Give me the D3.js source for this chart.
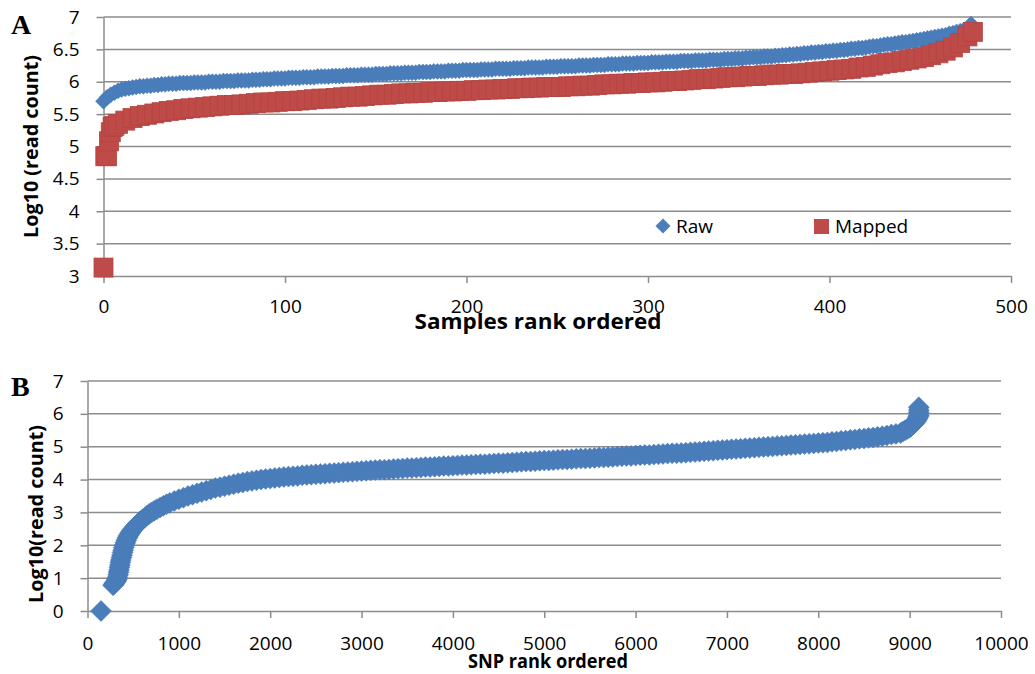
<!DOCTYPE html>
<html>
<head>
<meta charset="utf-8">
<script src="https://cdn.jsdelivr.net/npm/d3@7"></script>
<style>
  body { margin: 0; background: #fff; }
  svg { display: block; }
  .tick text { font-family: "Open Sans", sans-serif; font-size: 19px; fill: #000; }
  .axis path, .axis line { stroke: #8c8c8c; stroke-width: 1.5; }
  .grid line { stroke: #8c8c8c; stroke-width: 1.5; }
</style>
</head>
<body>
<svg id="chart" width="1035" height="674"></svg>
<script>
// ---- panel A : per-sample read counts (log10), samples sorted by count
// Raw: one value for every second rank (0, 2, 4 ... 478)
var rawRankStep = 2;
var rawA = [
  5.70,5.76,5.80,5.83,5.86,5.88,5.89,5.90,5.91,5.92, 5.93,5.93,5.94,5.94,5.95,5.95,5.96,5.96,5.97,5.97,
  5.97,5.98,5.98,5.98,5.98,5.99,5.99,5.99,5.99,6.00, 6.00,6.00,6.00,6.01,6.01,6.01,6.01,6.02,6.02,6.02,
  6.02,6.03,6.03,6.03,6.04,6.04,6.04,6.05,6.05,6.05, 6.05,6.06,6.06,6.06,6.06,6.07,6.07,6.07,6.07,6.08,
  6.08,6.08,6.08,6.09,6.09,6.09,6.09,6.10,6.10,6.10, 6.10,6.11,6.11,6.11,6.11,6.12,6.12,6.12,6.12,6.13,
  6.13,6.13,6.13,6.14,6.14,6.14,6.14,6.15,6.15,6.15, 6.15,6.16,6.16,6.16,6.16,6.17,6.17,6.17,6.17,6.18,
  6.18,6.18,6.18,6.18,6.19,6.19,6.19,6.19,6.20,6.20, 6.20,6.20,6.20,6.21,6.21,6.21,6.21,6.22,6.22,6.22,
  6.22,6.22,6.23,6.23,6.23,6.23,6.24,6.24,6.24,6.24, 6.24,6.25,6.25,6.25,6.25,6.26,6.26,6.26,6.26,6.27,
  6.27,6.27,6.27,6.28,6.28,6.28,6.28,6.29,6.29,6.29, 6.29,6.30,6.30,6.30,6.30,6.31,6.31,6.31,6.31,6.32,
  6.32,6.32,6.32,6.33,6.33,6.33,6.33,6.34,6.34,6.34, 6.34,6.35,6.35,6.35,6.36,6.36,6.36,6.37,6.37,6.38,
  6.38,6.38,6.39,6.39,6.39,6.40,6.40,6.41,6.41,6.42, 6.42,6.43,6.43,6.44,6.44,6.45,6.45,6.46,6.46,6.47,
  6.47,6.48,6.48,6.49,6.49,6.50,6.51,6.51,6.52,6.52, 6.53,6.54,6.55,6.55,6.56,6.57,6.58,6.58,6.59,6.60,
  6.61,6.61,6.62,6.63,6.64,6.65,6.66,6.67,6.68,6.69, 6.70,6.71,6.72,6.74,6.75,6.77,6.78,6.80,6.82,6.89];

// Mapped: [rank, value]
var mappedA = [[0,3.13],[1,4.85],[2,4.85],[3,5.08],[4,5.22],[5,5.30],[6,5.32],[8,5.35],[12,5.40],[16,5.44],
  [20,5.47],[24,5.49],[28,5.51],[32,5.53],[36,5.55],[40,5.56],[44,5.58],[48,5.59],[52,5.60],[56,5.61],
  [60,5.62],[64,5.63],[68,5.64],[72,5.64],[76,5.65],[80,5.66],[84,5.67],[88,5.68],[92,5.68],[96,5.69],
  [100,5.70],[104,5.70],[108,5.71],[112,5.72],[116,5.73],[120,5.74],[124,5.74],[128,5.75],[132,5.76],[136,5.77],
  [140,5.77],[144,5.78],[148,5.79],[152,5.80],[156,5.80],[160,5.81],[164,5.82],[168,5.82],[172,5.83],[176,5.83],
  [180,5.84],[184,5.84],[188,5.85],[192,5.85],[196,5.86],[200,5.86],[204,5.87],[208,5.87],[212,5.88],[216,5.88],
  [220,5.89],[224,5.89],[228,5.90],[232,5.90],[236,5.91],[240,5.91],[244,5.92],[248,5.92],[252,5.92],[256,5.93],
  [260,5.93],[264,5.94],[268,5.94],[272,5.95],[276,5.96],[280,5.96],[284,5.97],[288,5.97],[292,5.98],[296,5.98],
  [300,5.99],[304,5.99],[308,6.00],[312,6.01],[316,6.01],[320,6.02],[324,6.03],[328,6.04],[332,6.04],[336,6.05],
  [340,6.06],[344,6.07],[348,6.07],[352,6.08],[356,6.09],[360,6.09],[364,6.10],[368,6.11],[372,6.11],[376,6.12],
  [380,6.12],[384,6.13],[388,6.14],[392,6.15],[396,6.16],[400,6.17],[404,6.18],[408,6.19],[412,6.20],[416,6.22],
  [420,6.23],[424,6.25],[428,6.27],[432,6.29],[436,6.30],[440,6.32],[444,6.34],[448,6.36],[452,6.38],[456,6.41],
  [460,6.44],[464,6.48],[468,6.53],[472,6.60],[476,6.70],[479,6.77]];

var xTicksA = [0, 100, 200, 300, 400, 500];
var yTicksA = [3, 3.5, 4, 4.5, 5, 5.5, 6, 6.5, 7];
var legendA = ["Raw", "Mapped"];

// ---- panel B : per-SNP read counts, [rank, log10 count]
var snpB = [[148,0.00],[280,0.78],[290,0.82],[300,0.86],[310,0.90],[320,0.95],[328,1.02],[335,1.10],[340,1.18],
  [345,1.25],[350,1.33],[355,1.40],[360,1.48],[365,1.55],[372,1.63],[378,1.70],[384,1.78],[390,1.85],[397,1.93],
  [405,2.00],[415,2.08],[425,2.15],[437,2.23],[450,2.30],[465,2.37],[480,2.43],[497,2.49],[515,2.55],[535,2.61],
  [555,2.67],[577,2.73],[600,2.78],[625,2.84],[650,2.90],[675,2.95],[700,3.00],[730,3.05],[760,3.10],[795,3.15],
  [830,3.20],[865,3.25],[900,3.29],[950,3.35],[1000,3.40],[1050,3.45],[1100,3.50],[1150,3.54],[1200,3.58],
  [1250,3.62],[1300,3.66],[1350,3.70],[1400,3.74],[1450,3.77],[1500,3.80],[1550,3.83],[1600,3.86],[1650,3.89],
  [1700,3.91],[1750,3.94],[1800,3.96],[1850,3.98],[1900,4.00],[1950,4.02],[2000,4.03],[2050,4.05],[2100,4.06],
  [2150,4.08],[2200,4.09],[2250,4.10],[2300,4.11],[2350,4.13],[2400,4.14],[2450,4.15],[2500,4.16],[2550,4.17],
  [2600,4.18],[2650,4.19],[2700,4.20],[2750,4.21],[2800,4.22],[2850,4.23],[2900,4.24],[2950,4.25],[3000,4.26],
  [3050,4.27],[3100,4.28],[3150,4.29],[3200,4.30],[3250,4.30],[3300,4.31],[3350,4.32],[3400,4.33],[3450,4.34],
  [3500,4.35],[3550,4.35],[3600,4.36],[3650,4.37],[3700,4.38],[3750,4.38],[3800,4.39],[3850,4.40],[3900,4.41],
  [3950,4.41],[4000,4.42],[4050,4.43],[4100,4.44],[4150,4.44],[4200,4.45],[4250,4.46],[4300,4.47],[4350,4.47],
  [4400,4.48],[4450,4.49],[4500,4.50],[4550,4.50],[4600,4.51],[4650,4.52],[4700,4.53],[4750,4.54],[4800,4.55],
  [4850,4.55],[4900,4.56],[4950,4.57],[5000,4.58],[5050,4.58],[5100,4.59],[5150,4.60],[5200,4.61],[5250,4.61],
  [5300,4.62],[5350,4.63],[5400,4.64],[5450,4.64],[5500,4.65],[5550,4.66],[5600,4.67],[5650,4.67],[5700,4.68],
  [5750,4.69],[5800,4.70],[5850,4.71],[5900,4.72],[5950,4.72],[6000,4.73],[6050,4.74],[6100,4.75],[6150,4.75],
  [6200,4.76],[6250,4.77],[6300,4.78],[6350,4.79],[6400,4.80],[6450,4.80],[6500,4.81],[6550,4.82],[6600,4.83],
  [6650,4.84],[6700,4.85],[6750,4.86],[6800,4.87],[6850,4.88],[6900,4.89],[6950,4.90],[7000,4.91],[7050,4.92],
  [7100,4.93],[7150,4.94],[7200,4.95],[7250,4.96],[7300,4.97],[7350,4.98],[7400,4.99],[7450,5.00],[7500,5.01],
  [7550,5.02],[7600,5.03],[7650,5.04],[7700,5.05],[7750,5.06],[7800,5.07],[7850,5.08],[7900,5.09],[7950,5.10],
  [8000,5.11],[8050,5.12],[8100,5.13],[8150,5.15],[8200,5.16],[8250,5.18],[8300,5.19],[8350,5.21],[8400,5.22],
  [8450,5.24],[8500,5.25],[8550,5.27],[8600,5.28],[8650,5.30],[8700,5.32],[8750,5.34],[8800,5.37],[8850,5.39],
  [8900,5.42],[8925,5.46],[8950,5.50],[8975,5.54],[9000,5.58],[9020,5.63],[9040,5.68],[9055,5.73],[9070,5.78],
  [9080,5.83],[9090,5.88],[9095,5.92],[9100,5.96],[9100,6.05],[9100,6.12],[9100,6.20]];

var xTicksB = [0, 1000, 2000, 3000, 4000, 5000, 6000, 7000, 8000, 9000, 10000];
var yTicksB = [0, 1, 2, 3, 4, 5, 6, 7];

var blue = "#4a7ebb", red = "#be4b48";

var svg = d3.select("#chart");

function diamond(h) {
  return "M0," + (-h) + "L" + h + ",0L0," + h + "L" + (-h) + ",0Z";
}

// grid + axes for one panel
function frame(x, y, xt, yt, yPad, xPad) {
  var g = svg.append("g");
  var x0 = x.range()[0], x1 = x.range()[1];
  g.append("g").attr("class", "grid")
    .selectAll("line").data(yt.filter(function(d) { return d !== y.domain()[0]; }))
    .enter().append("line")
    .attr("x1", x0).attr("x2", x1)
    .attr("y1", function(d) { return y(d); })
    .attr("y2", function(d) { return y(d); });

  g.append("g").attr("class", "axis")
    .attr("transform", "translate(" + x0 + ",0)")
    .call(d3.axisLeft(y).tickValues(yt).tickSize(7).tickSizeOuter(0).tickPadding(yPad).tickFormat(d3.format("")));

  g.append("g").attr("class", "axis")
    .attr("transform", "translate(0," + y.range()[0] + ")")
    .call(d3.axisBottom(x).tickValues(xt).tickSize(7).tickSizeOuter(0).tickPadding(xPad).tickFormat(d3.format("")));
  return g;
}

function label(x, y, rot, size, len, txt) {
  return svg.append("text")
    .attr("transform", "translate(" + x + "," + y + ")" + (rot ? " rotate(-90)" : ""))
    .attr("text-anchor", "middle")
    .attr("font-family", "Open Sans, sans-serif").attr("font-weight", "bold").attr("font-size", size)
    .attr("textLength", len).attr("lengthAdjust", "spacingAndGlyphs")
    .text(txt);
}

// ---------- panel A
var xA = d3.scaleLinear().domain([0, 500]).range([103.5, 1011]);
var yA = d3.scaleLinear().domain([3, 7]).range([276, 17]);
frame(xA, yA, xTicksA, yTicksA, 17, 16.5);

svg.append("g").selectAll("path").data(rawA).enter().append("path")
  .attr("transform", function(d, i) { return "translate(" + xA(i * rawRankStep) + "," + yA(d) + ")"; })
  .attr("d", diamond(8))
  .attr("fill", blue).attr("stroke", "#4779b6").attr("stroke-width", 0.5);

svg.append("g").selectAll("rect").data(mappedA).enter().append("rect")
  .attr("x", function(d) { return xA(d[0]) - 9.5; })
  .attr("y", function(d) { return yA(d[1]) - 9.5; })
  .attr("width", 19).attr("height", 19)
  .attr("fill", red).attr("stroke", "#b54441").attr("stroke-width", 0.8);

// legend
var leg = svg.append("g").attr("font-family", "Open Sans, sans-serif").attr("font-size", 19);
leg.append("path").attr("transform", "translate(663,226)").attr("d", diamond(7.5)).attr("fill", blue);
leg.append("text").attr("x", 676).attr("y", 233).text(legendA[0]);
leg.append("rect").attr("x", 814).attr("y", 219).attr("width", 15).attr("height", 15).attr("fill", red);
leg.append("text").attr("x", 835).attr("y", 233).text(legendA[1]);

label(538, 329, false, 21.5, 247, "Samples rank ordered");
label(38, 146.5, true, 20, 183, "Log10 (read count)");
svg.append("text").attr("x", 11).attr("y", 34)
  .attr("font-family", "Liberation Serif, serif").attr("font-weight", "bold").attr("font-size", 28)
  .text("A");

// ---------- panel B
var xB = d3.scaleLinear().domain([0, 10000]).range([87.5, 1001]);
var yB = d3.scaleLinear().domain([0, 7]).range([611, 381]);
frame(xB, yB, xTicksB, yTicksB, 17, 18.5);

svg.append("g").selectAll("path").data(snpB).enter().append("path")
  .attr("transform", function(d) { return "translate(" + xB(d[0]) + "," + yB(d[1]) + ")"; })
  .attr("d", diamond(10.5))
  .attr("fill", blue).attr("stroke", "#4779b6").attr("stroke-width", 0.5);

label(548, 668, false, 19, 160, "SNP rank ordered");
label(43, 514, true, 19, 178, "Log10(read count)");
svg.append("text").attr("x", 11).attr("y", 396)
  .attr("font-family", "Liberation Serif, serif").attr("font-weight", "bold").attr("font-size", 28)
  .text("B");
</script>
</body>
</html>
